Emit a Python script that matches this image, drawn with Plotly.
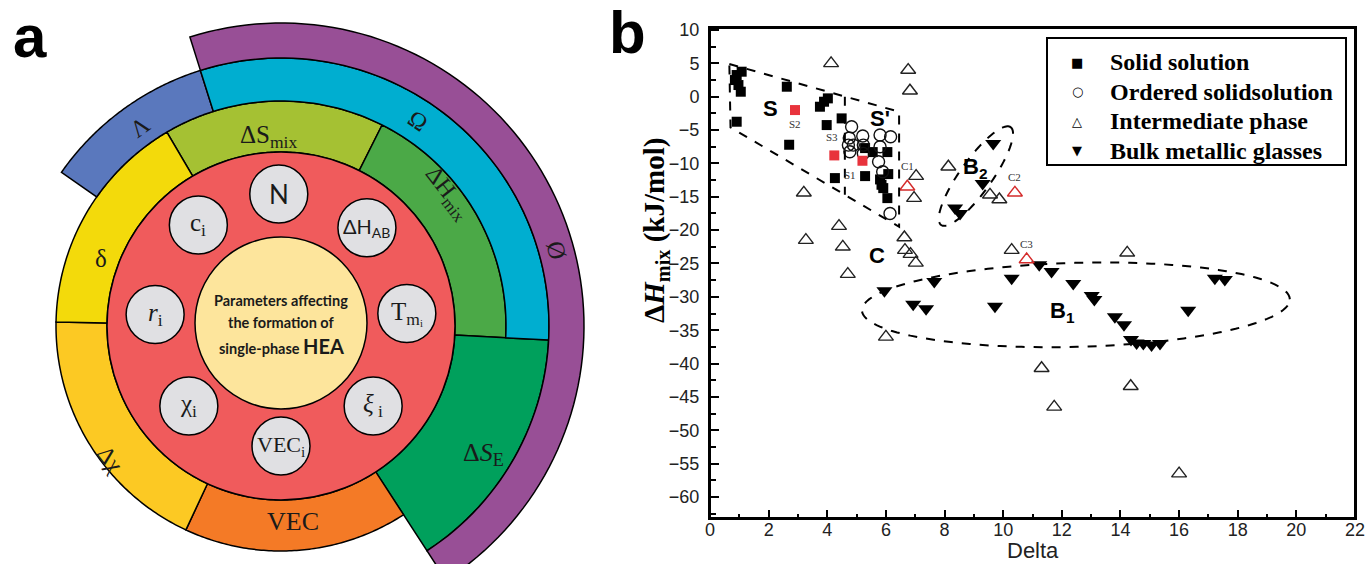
import math
import plotly.graph_objects as go

FIG_W, FIG_H = 1370, 564

# ---------------- Panel b data ----------------
solid_x = [0.91, 1.08, 0.85, 0.97, 1.05, 0.91, 2.62, 2.70, 3.75, 3.89, 4.02, 3.98, 4.49, 4.26,
           5.29, 5.55, 6.05, 5.29, 5.80, 6.08, 5.85, 5.91, 6.05]
solid_y = [3.25, 3.75, 2.50, 1.75, 0.75, -3.75, 1.50, -7.20, -1.50, -0.75, -0.25, -4.25, -3.25, -12.2,
           -7.70, -8.30, -8.30, -11.9, -12.4, -11.6, -13.2, -13.7, -15.2]

ordered_x = [4.83, 4.75, 4.72, 4.89, 4.77, 5.21, 5.23, 5.23, 5.80, 6.16, 5.80, 5.75, 5.89, 6.14]
ordered_y = [-4.5, -6.2, -7.25, -7.25, -8.25, -5.9, -7.25, -8.5, -5.75, -6.0, -7.5, -9.75, -11.25, -17.5]

inter_x = [4.13, 6.76, 6.82, 3.20, 3.27, 4.40, 4.53, 4.70, 7.03, 6.96, 8.13, 9.55, 9.87, 6.63,
           6.65, 6.84, 7.02, 6.00, 10.29, 14.23, 11.31, 11.74, 14.35, 16.00]
inter_y = [5.0, 4.0, 0.9, -14.4, -21.5, -19.4, -22.5, -26.6, -11.9, -15.2, -10.5, -14.7, -15.4, -21.1,
           -23.0, -23.6, -24.9, -36.0, -23.0, -23.4, -40.7, -46.5, -43.4, -56.5]

bmg_x = [9.66, 9.30, 8.36, 8.53, 5.95, 7.65, 6.93, 7.37, 9.72, 10.29, 11.23, 11.65, 12.39, 13.02,
         13.11, 13.81, 14.12, 14.36, 14.55, 14.78, 15.06, 15.35, 16.31, 17.22, 17.56]
bmg_y = [-7.0, -13.0, -16.7, -17.5, -29.1, -27.7, -31.1, -31.8, -31.4, -27.2, -25.2, -26.2, -28.0, -29.8,
         -30.4, -33.0, -34.2, -36.4, -36.9, -37.0, -37.2, -37.0, -32.0, -27.2, -27.4]

red_sq_x = [2.90, 4.24, 5.20]
red_sq_y = [-2.0, -8.8, -9.6]
red_sq_lab = ["S2", "S3", "S1"]

red_tri_x = [6.73, 10.40, 10.80]
red_tri_y = [-13.5, -14.4, -24.4]
red_tri_lab = ["C1", "C2", "C3"]

legend_names = ["Solid solution", "Ordered solidsolution", "Intermediate phase", "Bulk metallic glasses"]
legend_symbols = ["■", "○", "△", "▼"]

x_ticks = list(range(0, 23, 2))
y_ticks = list(range(-60, 11, 5))

region_lab = ["S", "S'", "C", "B<sub>2</sub>", "B<sub>1</sub>"]
region_x = [2.05, 5.80, 5.70, 9.04, 12.04]
region_y = [-1.7, -3.2, -23.8, -10.7, -32.3]

# ---------------- Panel a data ----------------
ring_names = ["ΔS<sub>mix</sub>", "ΔH<sub>mix</sub>", "Δ<i>S</i><sub>E</sub>", "VEC", "Δχ", "δ", "Λ", "Ω", "Ø"]
ring_start = [63.3, -3.0, -57.0, 245.0, 179.0, 120.5, 107.5, -3.0, -57.0]
ring_end = [120.5, 63.3, -3.0, 303.0, 245.0, 179.0, 145.0, 107.5, 107.5]
ring_level_in = [1, 1, 1, 1, 1, 1, 2, 2, 3]
ring_level_out = [2, 2, 3, 2, 2, 2, 3, 3, 4]
ring_colors = ["#a5c133", "#4ba947", "#00a05c", "#f47a26", "#fcc923", "#f3da0b", "#5a78bd", "#00aed0", "#984f96"]

param_names = ["N", "ΔH<sub>AB</sub>", "T<sub>m</sub><sub>ᵢ</sub>", "<i>ξ</i><sub> i</sub>", "VEC<sub>i</sub>",
               "χ<sub>i</sub>", "<i>r</i><sub>i</sub>", "c<sub>i</sub>"]
param_angle = [91, 47, 3, -43, -90, -137, 177.5, 131]

# ---------------- geometry helpers (screen-pixel overlay) ----------------
CX, CY = 281.0, 326.0          # centre of the coloured rings
CY_CORE = 323.0                # centre of the inner disc
CY_PARAM = 320.0               # centre of the ring of grey discs
RADII = [86, 174, 225, 268, 303]
R_PARAM_RING = 126
R_PARAM = 29


def pol(r, a, cy=CY):
    t = math.radians(a)
    return CX + r * math.cos(t), cy - r * math.sin(t)


def sector_path(r_in, r_out, a0, a1, n=90):
    pts = [pol(r_out, a0 + (a1 - a0) * i / n) for i in range(n + 1)]
    pts += [pol(r_in, a1 - (a1 - a0) * i / n) for i in range(n + 1)]
    return "M " + " L ".join(f"{x:.2f},{y:.2f}" for x, y in pts) + " Z"


# panel b plot area in screen pixels
PB_L, PB_R, PB_T, PB_B = 710, 1355, 28, 518
X_RANGE = [0, 22]
Y_RANGE = [-63.15, 10.3]

fig = go.Figure()

fig.add_trace(go.Scatter(x=solid_x, y=solid_y, mode="markers", name=legend_names[0], showlegend=False,
                         marker=dict(symbol="square", size=10, color="black")))
fig.add_trace(go.Scatter(x=ordered_x, y=ordered_y, mode="markers", name=legend_names[1], showlegend=False,
                         marker=dict(symbol="circle-open", size=12, color="#111", line=dict(width=1.4))))
fig.add_trace(go.Scatter(x=inter_x, y=inter_y, mode="markers", name=legend_names[2], showlegend=False,
                         marker=dict(symbol="triangle-up-open", size=13, color="#222", line=dict(width=1.4))))
fig.add_trace(go.Scatter(x=bmg_x, y=bmg_y, mode="markers", name=legend_names[3], showlegend=False,
                         marker=dict(symbol="triangle-down", size=14, color="black")))
fig.add_trace(go.Scatter(x=red_sq_x, y=red_sq_y, mode="markers", showlegend=False,
                         marker=dict(symbol="square", size=10, color="#e8333c")))
fig.add_trace(go.Scatter(x=red_tri_x, y=red_tri_y, mode="markers", showlegend=False,
                         marker=dict(symbol="triangle-up-open", size=13, color="#d42a2a", line=dict(width=1.4))))

TICKFONT = dict(family="Liberation Sans, Arial", size=18, color="#222")
fig.update_layout(
    xaxis=dict(domain=[PB_L / FIG_W, PB_R / FIG_W], range=X_RANGE, tickvals=x_ticks,
               ticks="inside", ticklen=8, tickwidth=1.5, tickcolor="black",
               minor=dict(dtick=1, tick0=0, ticks="inside", ticklen=4, tickwidth=1.5, tickcolor="black"),
               showline=True, linewidth=2, linecolor="black", mirror=True, ticklabelstandoff=-6,
               showgrid=False, zeroline=False, tickfont=TICKFONT),
    yaxis=dict(domain=[(FIG_H - PB_B) / FIG_H, (FIG_H - PB_T) / FIG_H], range=Y_RANGE,
               tickvals=y_ticks, ticks="inside", ticklen=9, tickwidth=1.5, tickcolor="black",
               minor=dict(dtick=2.5, tick0=0, ticks="inside", ticklen=6, tickwidth=1.5, tickcolor="black"),
               showline=True, linewidth=2, linecolor="black", mirror=True,
               showgrid=False, zeroline=False, ticklabelstandoff=5, tickfont=TICKFONT),
    # full-figure overlay in screen pixels (for the diagram, legend box and free texts)
    xaxis2=dict(domain=[0, 1], range=[0, FIG_W], visible=False, fixedrange=True, anchor="y2"),
    yaxis2=dict(domain=[0, 1], range=[FIG_H, 0], visible=False, fixedrange=True, anchor="x2"),
)

shapes = []
DASH = dict(color="black", width=2, dash="dash")
shapes.append(dict(type="rect", xref="x domain", yref="y domain", x0=0, x1=1, y0=0, y1=1,
                   line=dict(color="black", width=2)))
S_POLY = [(0.66, 4.9), (6.45, -2.25), (6.45, -19.5), (0.70, -4.6)]
shapes.append(dict(type="path", xref="x", yref="y",
                   path="M " + " L ".join(f"{x},{y}" for x, y in S_POLY) + " Z", line=DASH))
shapes.append(dict(type="line", xref="x", yref="y", x0=4.6, y0=0.0, x1=4.6, y1=-14.7, line=DASH))

PX_X = (PB_R - PB_L) / (X_RANGE[1] - X_RANGE[0])
PX_Y = (PB_B - PB_T) / (Y_RANGE[1] - Y_RANGE[0])


def ellipse_path(cx, cy, a_px, b_px, ang_deg, n=120):
    ph = math.radians(ang_deg)
    pts = []
    for i in range(n + 1):
        t = 2 * math.pi * i / n
        dx = a_px * math.cos(t) * math.cos(ph) - b_px * math.sin(t) * math.sin(ph)
        dy = a_px * math.cos(t) * math.sin(ph) + b_px * math.sin(t) * math.cos(ph)
        pts.append((cx + dx / PX_X, cy + dy / PX_Y))
    return "M " + " L ".join(f"{x:.3f},{y:.3f}" for x, y in pts) + " Z"


shapes.append(dict(type="path", xref="x", yref="y", path=ellipse_path(9.07, -11.9, 60, 16, 54.6), line=DASH))
shapes.append(dict(type="path", xref="x", yref="y", path=ellipse_path(12.48, -31.2, 214, 42, 1.5), line=DASH))

LEG_L, LEG_T, LEG_R, LEG_B = 1047, 38, 1346, 165
shapes.append(dict(type="rect", xref="x2", yref="y2", x0=LEG_L, x1=LEG_R, y0=LEG_T, y1=LEG_B,
                   fillcolor="white", line=dict(color="black", width=2)))

for i in range(len(ring_names)):
    shapes.append(dict(type="path", xref="x2", yref="y2",
                       path=sector_path(RADII[ring_level_in[i]], RADII[ring_level_out[i]],
                                        ring_start[i], ring_end[i]),
                       fillcolor=ring_colors[i], line=dict(color="black", width=1.5)))
shapes.append(dict(type="circle", xref="x2", yref="y2", x0=CX - RADII[1], x1=CX + RADII[1],
                   y0=CY - RADII[1], y1=CY + RADII[1], fillcolor="#f05b5c",
                   line=dict(color="black", width=1.5)))
for a in param_angle:
    px, py = pol(R_PARAM_RING, a, CY_PARAM)
    shapes.append(dict(type="circle", xref="x2", yref="y2", x0=px - R_PARAM, x1=px + R_PARAM,
                       y0=py - R_PARAM, y1=py + R_PARAM, fillcolor="#e0e0e3",
                       line=dict(color="black", width=1.5)))
shapes.append(dict(type="circle", xref="x2", yref="y2", x0=CX - RADII[0], x1=CX + RADII[0],
                   y0=CY_CORE - RADII[0], y1=CY_CORE + RADII[0], fillcolor="#fde59c",
                   line=dict(color="black", width=1.5)))

fig.update_layout(shapes=shapes)

ann = []
SERIF = "Liberation Serif, Times New Roman, serif"
SANS = "Liberation Sans, Arial, sans-serif"
HUMAN = "Lato, Open Sans, sans-serif"


def txt(x, y, text, size, family=SANS, color="black", bold=False, angle=0, xanchor="center", ref="x2"):
    d = dict(x=x, y=y, xref=ref, yref=ref.replace("x", "y"), text=text, showarrow=False,
             textangle=angle, xanchor=xanchor,
             font=dict(family=family, size=size, color=color, weight="bold" if bold else "normal"))
    ann.append(d)
    return d


for t, x, y in zip(region_lab, region_x, region_y):
    txt(x, y, t, 22, bold=True, ref="x")
sq_offsets = [(0, -14), (-2, 18), (-12, -14)]
for t, x, y, (dx, dy) in zip(red_sq_lab, red_sq_x, red_sq_y, sq_offsets):
    d = txt(x, y, t, 11, family=SERIF, color="#333", ref="x")
    d.update(xshift=dx, yshift=dy)
tri_offsets = [(0, 21), (0, 16), (0, 15)]
for t, x, y, (dx, dy) in zip(red_tri_lab, red_tri_x, red_tri_y, tri_offsets):
    d = txt(x, y, t, 11, family=SERIF, color="#333", ref="x")
    d.update(xshift=dx, yshift=dy)

LEG_ROW0, LEG_DY = 62, 29.5
for i, (sym, name) in enumerate(zip(legend_symbols, legend_names)):
    yy = LEG_ROW0 + i * LEG_DY
    txt(1077, yy, sym, 13, family="DejaVu Sans")
    txt(1108, yy, name, 24, family=SERIF, bold=True, xanchor="left")

txt(1033, 550, "Delta", 22, color="#222")
txt(656, 231, "Δ<i>H</i><sub>mix</sub> (kJ/mol)", 29, family=SERIF, bold=True, angle=-90)

txt(30, 36, "a", 60, bold=True)
txt(627, 32, "b", 60, bold=True)

ring_lab_x = [268, 447, 483, 293, 110, 101, 140, 418, 557]
ring_lab_y = [136, 193, 454, 521, 459, 258, 127, 121, 250]
ring_lab_ang = [0, 52, 0, 0, 52, 0, -36, 34, 75]
ring_lab_size = [25, 24, 26, 26, 24, 25, 24, 24, 25]
for t, x, y, a, s in zip(ring_names, ring_lab_x, ring_lab_y, ring_lab_ang, ring_lab_size):
    txt(x, y, t, s, family=SERIF, color="#1a1a1a", angle=a)

for t, a in zip(param_names, param_angle):
    px, py = pol(R_PARAM_RING, a, CY_PARAM)
    if t == "N":
        txt(px, py, t, 26, family=HUMAN, color="#1a1a1a")
    elif t.startswith("ΔH"):
        txt(px, py, t, 20, family=HUMAN, color="#1a1a1a")
    elif t.startswith("VEC"):
        txt(px, py, t, 22, family=SERIF, color="#1a1a1a")
    else:
        txt(px, py, t, 25, family=SERIF, color="#1a1a1a")

txt(CX, 300, "Parameters affecting", 14.5, family=HUMAN, color="#1a1a1a", bold=True)
txt(CX, 322, "the formation of", 14.5, family=HUMAN, color="#1a1a1a", bold=True)
txt(CX, 346, "single-phase <span style='font-size:20px'>HEA</span>", 14.5, family=HUMAN,
    color="#1a1a1a", bold=True)

fig.update_layout(
    annotations=ann,
    width=FIG_W, height=FIG_H,
    margin=dict(l=0, r=0, t=0, b=0, autoexpand=False),
    paper_bgcolor="white", plot_bgcolor="rgba(0,0,0,0)",
    showlegend=False,
)

fig.write_html("out.html", config={"displayModeBar": False},
               post_script="document.body.style.margin='0px';")
